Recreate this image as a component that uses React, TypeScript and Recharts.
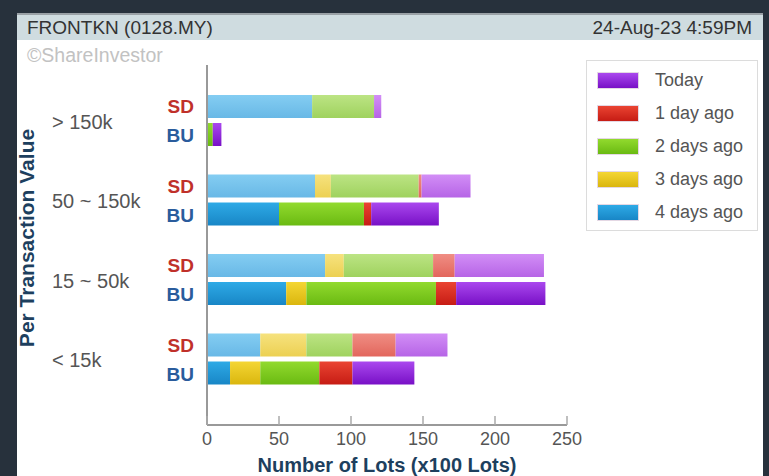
import React from "react";
import { BarChart, Bar, XAxis, YAxis } from "recharts";

// per transaction value groups (top to bottom)
const groups = ["> 150k", "50 ~ 150k", "15 ~ 50k", "< 15k"];
const xTicks = [0, 50, 100, 150, 200, 250];

// SD rows
const sd4 = [73, 75, 82, 37];
const sd3 = [0, 11, 13, 32];
const sd2 = [43, 61, 62, 32];
const sd1 = [0, 2, 15, 30];
const sdToday = [5, 34, 62, 36];

// BU rows
const bu4 = [0, 50, 55, 16];
const bu3 = [0, 0, 14, 21];
const bu2 = [4, 59, 90, 41];
const bu1 = [0, 5, 14, 23];
const buToday = [6, 47, 62, 43];

const series = [
  { key: "d4", name: "4 days ago", sd: sd4, bu: bu4 },
  { key: "d3", name: "3 days ago", sd: sd3, bu: bu3 },
  { key: "d2", name: "2 days ago", sd: sd2, bu: bu2 },
  { key: "d1", name: "1 day ago", sd: sd1, bu: bu1 },
  { key: "today", name: "Today", sd: sdToday, bu: buToday },
];

const palette: Record<string, { sd: [string, string]; bu: [string, string] }> = {
  d4: { sd: ["#84cdf2", "#68b8e6"], bu: ["#2eaae6", "#1886c6"] },
  d3: { sd: ["#f6e27e", "#ecd052"], bu: ["#f4d634", "#dab60e"] },
  d2: { sd: ["#bce484", "#9fd25e"], bu: ["#92da2e", "#6aba12"] },
  d1: { sd: ["#f08e84", "#e2665c"], bu: ["#ea4432", "#c61c14"] },
  today: { sd: ["#d28ef6", "#b664e6"], bu: ["#aa48ee", "#7810c6"] },
};

const data = groups.map((g, i) => {
  const row: Record<string, string | number> = { group: g };
  series.forEach((s) => {
    row[`sd_${s.key}`] = s.sd[i];
    row[`bu_${s.key}`] = s.bu[i];
  });
  return row;
});

const font = "'Liberation Sans', Arial, sans-serif";

const GroupTick = (props: any) => {
  const { y, payload } = props;
  return (
    <g>
      <text x={52} y={y + 1} dy="0.35em" fill="#555" fontSize={20} fontFamily={font}>
        {payload.value}
      </text>
      <text x={194} y={y - 14} dy="0.35em" textAnchor="end" fill="#c0302a" fontSize={19} fontWeight="bold" fontFamily={font}>
        SD
      </text>
      <text x={194} y={y + 15} dy="0.35em" textAnchor="end" fill="#2a5c9c" fontSize={19} fontWeight="bold" fontFamily={font}>
        BU
      </text>
    </g>
  );
};

const ValueTick = (props: any) => {
  const { x, y, payload } = props;
  return (
    <g>
      <line x1={x} x2={x} y1={y - 9} y2={y} stroke="#aaa" strokeWidth={1.5} />
      <text x={x} y={y + 20} textAnchor="middle" fill="#555" fontSize={18} fontFamily={font}>
        {payload.value}
      </text>
    </g>
  );
};

const YTitle = () => (
  <text
    x={27}
    y={238}
    transform="rotate(-90 27 238)"
    textAnchor="middle"
    dy="0.35em"
    fill="#1d3f5e"
    fontSize={21}
    fontWeight="bold"
    fontFamily={font}
  >
    Per Transaction Value
  </text>
);

export default function App() {
  const legendOrder = [...series].reverse();
  return (
    <div style={{ position: "absolute", left: 0, top: 0, width: 769, height: 476, background: "#27313c", overflow: "hidden", fontFamily: font }}>
      <div style={{ position: "absolute", left: 17, top: 13, width: 746, height: 470, background: "#fff" }}>
        <div style={{ height: 2, background: "#9aa1a6" }} />
        <div style={{ height: 25, background: "#cfdce0", position: "relative", color: "#333", fontSize: 19, lineHeight: "25px" }}>
          <span style={{ position: "absolute", left: 10 }}>FRONTKN (0128.MY)</span>
          <span style={{ position: "absolute", right: 11 }}>24-Aug-23 4:59PM</span>
        </div>
        <div style={{ position: "absolute", left: 10, top: 31, color: "#c2c2c2", fontSize: 19.5 }}>©ShareInvestor</div>
      </div>

      <div style={{ position: "absolute", left: 0, top: 0 }}>
        <BarChart
          width={769}
          height={476}
          data={data}
          layout="vertical"
          margin={{ top: 65, right: 202, bottom: 0, left: 17 }}
          barGap={5}
        >
          <defs>
            {series.map((s) => (
              <React.Fragment key={s.key}>
                <linearGradient id={`g_sd_${s.key}`} x1="0" y1="0" x2="0" y2="1">
                  <stop offset="0%" stopColor={palette[s.key].sd[0]} />
                  <stop offset="100%" stopColor={palette[s.key].sd[1]} />
                </linearGradient>
                <linearGradient id={`g_bu_${s.key}`} x1="0" y1="0" x2="0" y2="1">
                  <stop offset="0%" stopColor={palette[s.key].bu[0]} />
                  <stop offset="100%" stopColor={palette[s.key].bu[1]} />
                </linearGradient>
              </React.Fragment>
            ))}
          </defs>
          <XAxis
            type="number"
            domain={[0, 250]}
            ticks={xTicks}
            height={51}
            axisLine={{ stroke: "#999", strokeWidth: 2 }}
            tickLine={false}
            tickSize={0}
            tickMargin={0}
            tick={<ValueTick />}
            interval={0}
            label={{
              value: "Number of Lots (x100 Lots)",
              position: "insideBottom",
              offset: 4,
              style: { fill: "#1d3f5e", fontSize: 20, fontWeight: "bold", fontFamily: font },
            }}
          />
          <YAxis
            type="category"
            dataKey="group"
            width={190}
            padding={{ top: 16, bottom: 26 }}
            axisLine={{ stroke: "#999", strokeWidth: 2 }}
            tickLine={false}
            tickSize={0}
            tickMargin={0}
            tick={<GroupTick />}
            interval={0}
            label={{ content: () => <YTitle /> }}
          />
          {series.map((s) => (
            <Bar
              key={`sd_${s.key}`}
              dataKey={`sd_${s.key}`}
              name={s.name}
              stackId="SD"
              barSize={23}
              fill={`url(#g_sd_${s.key})`}
              isAnimationActive={false}
            />
          ))}
          {series.map((s) => (
            <Bar
              key={`bu_${s.key}`}
              dataKey={`bu_${s.key}`}
              name={s.name}
              stackId="BU"
              barSize={23}
              fill={`url(#g_bu_${s.key})`}
              isAnimationActive={false}
            />
          ))}
        </BarChart>
      </div>

      <div style={{ position: "absolute", left: 586, top: 60, width: 170, height: 169, border: "1px solid #dcdcdc", background: "#fff" }}>
        {legendOrder.map((s, i) => (
          <div key={s.key} style={{ position: "absolute", left: 10, top: 9 + i * 33, height: 20, display: "flex", alignItems: "center" }}>
            <div
              style={{
                width: 40,
                height: 15,
                border: "1px solid #e4d8e4",
                background: `linear-gradient(${palette[s.key].bu[0]}, ${palette[s.key].bu[1]})`,
              }}
            />
            <span style={{ marginLeft: 16, fontSize: 18, color: "#555", whiteSpace: "nowrap" }}>{s.name}</span>
          </div>
        ))}
      </div>
    </div>
  );
}
